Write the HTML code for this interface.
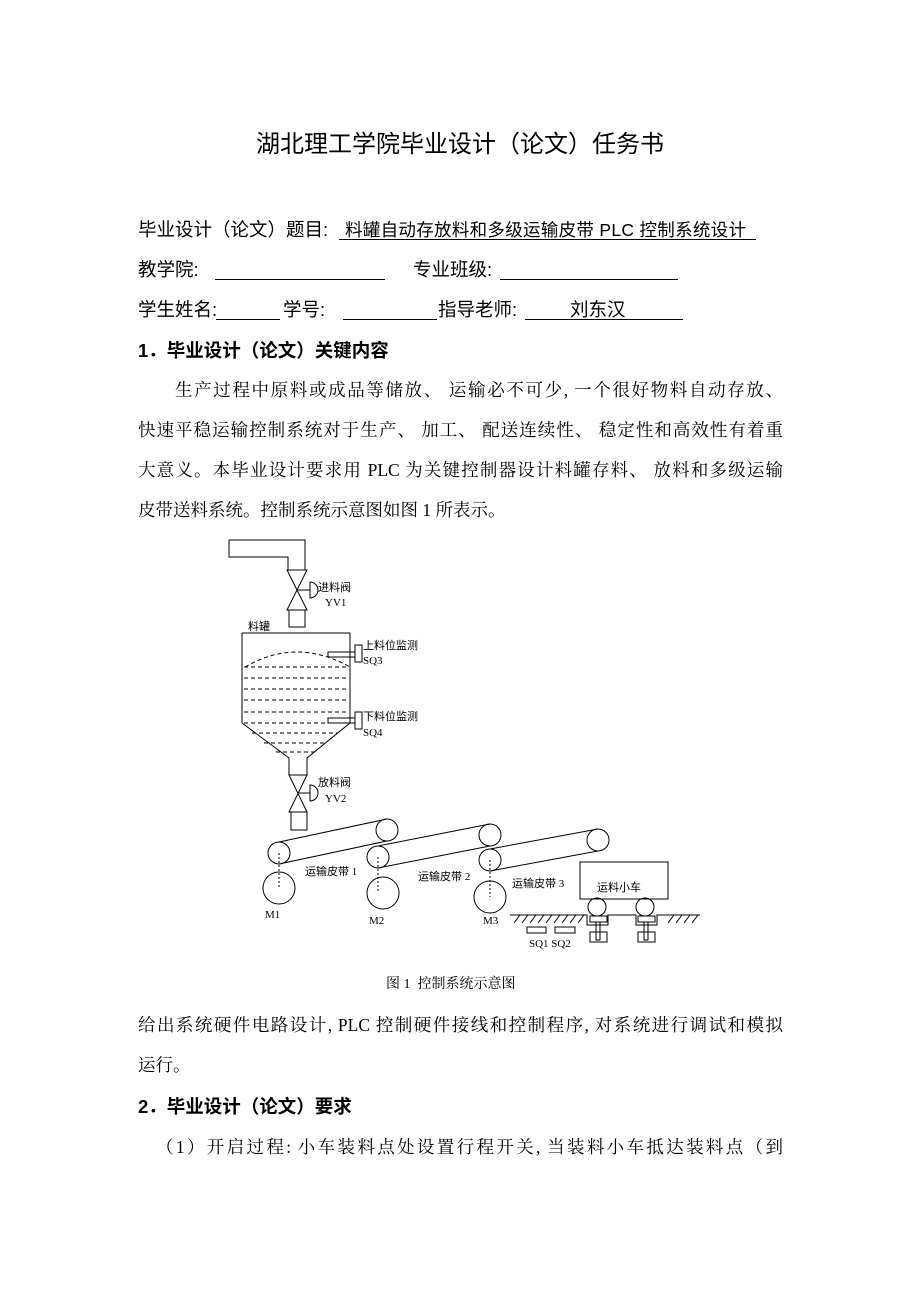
<!DOCTYPE html>
<html><head><meta charset="utf-8"><style>
body{margin:0;background:#fff}
#p{position:relative;width:920px;height:1302px;overflow:hidden;background:#fff;color:#000}
.t{position:absolute;white-space:nowrap;font-family:"Liberation Sans","Noto Sans CJK SC",sans-serif;font-size:18.5px;line-height:20px}
.s{position:absolute;white-space:nowrap;font-family:"Liberation Serif","Noto Serif CJK SC",serif;font-size:17.5px;line-height:20px}
.j{position:absolute;left:138px;width:645px;font-family:"Liberation Serif","Noto Serif CJK SC",serif;font-size:17.5px;line-height:20px;text-align:justify;text-align-last:justify;white-space:nowrap}
.u{position:absolute;height:1px;background:#000}
svg text{font-family:"Liberation Serif","Noto Sans CJK SC",sans-serif;font-size:11px}
</style></head><body><div id="p">
<div class="t" style="left:0;width:920px;text-align:center;top:131px;font-size:24px;line-height:28px">湖北理工学院毕业设计（论文）任务书</div>
<div class="t" style="left:138px;top:220px">毕业设计（论文）题目:</div>
<div class="t" style="left:345px;top:220px;font-size:17.5px;letter-spacing:0.3px">料罐自动存放料和多级运输皮带 PLC 控制系统设计</div>
<div class="u" style="left:339px;width:417px;top:239px"></div>
<div class="t" style="left:138px;top:260px">教学院:</div><div class="u" style="left:215px;width:170px;top:279px"></div>
<div class="t" style="left:413px;top:260px">专业班级:</div><div class="u" style="left:500px;width:178px;top:279px"></div>
<div class="t" style="left:138px;top:300px">学生姓名:</div><div class="u" style="left:216px;width:64px;top:319px"></div>
<div class="t" style="left:283px;top:300px">学号:</div><div class="u" style="left:343px;width:94px;top:319px"></div>
<div class="t" style="left:438px;top:300px">指导老师:</div><div class="u" style="left:525px;width:158px;top:319px"></div>
<div class="t" style="left:570px;top:300px">刘东汉</div>
<div class="t" style="left:138px;top:341px;font-weight:bold">1．毕业设计（论文）关键内容</div>
<div class="j" style="left:175px;width:608px;top:380px">生产过程中原料或成品等储放、 运输必不可少, 一个很好物料自动存放、</div>
<div class="j" style="top:420px">快速平稳运输控制系统对于生产、 加工、 配送连续性、 稳定性和高效性有着重</div>
<div class="j" style="top:460px">大意义。本毕业设计要求用 PLC 为关键控制器设计料罐存料、 放料和多级运输</div>
<div class="s" style="left:138px;top:500px">皮带送料系统。控制系统示意图如图 1 所表示。</div>
<svg style="position:absolute;left:0;top:0" width="920" height="1302" fill="none" stroke="#000" stroke-width="1">
<path d="M229 540H305V570M288 570V557H229V540"/>
<path d="M287 570H307L287 610H307Z"/><path d="M297 590H310M310 582A8 8 0 0 1 310 598Z"/>
<rect x="289" y="610" width="16" height="17"/>
<path d="M242 633H350V723L307 758V775M242 633V723L289 758V775"/>
<g stroke-dasharray="4 3"><path d="M245 667Q297 637 350 667"/>
<path d="M244 667H349M244 678H349M244 689H349M244 700H349M244 712H349M244 723H349M252 733H338M264 743H326M276 752H314"/></g>
<path d="M328 652H355V657H328Z"/><rect x="355" y="645" width="7" height="17"/>
<path d="M328 718H355V723H328Z"/><rect x="355" y="712" width="7" height="17"/>
<path d="M289 775H307L289 812H307Z"/><path d="M298 793H310M310 785A8 8 0 0 1 310 801Z"/>
<rect x="291" y="812" width="16" height="18"/>
<circle cx="279" cy="853" r="11"/><circle cx="387" cy="830" r="11"/>
<path d="M279 842L387 819M279 864L387 841"/>
<circle cx="378" cy="857" r="11"/><circle cx="490" cy="835" r="11"/>
<path d="M378 846L490 824M378 868L490 846"/>
<circle cx="490" cy="860" r="11"/><circle cx="598" cy="840" r="11"/>
<path d="M490 849L598 829M490 871L598 851"/>
<circle cx="279" cy="888" r="16"/><circle cx="383" cy="893" r="16"/><circle cx="490" cy="897" r="16"/>
<g stroke-dasharray="2 2"><path d="M279 853V888M378 857V893M490 860V897"/></g>
<rect x="580" y="862" width="88" height="37"/>
<circle cx="597" cy="907" r="9"/><circle cx="645" cy="907" r="9"/>
<path d="M510 915H587V925H608V915H636V925H657V915H700"/>
<g><path d="M514 923L520 915M522 923L528 915M530 923L536 915M538 923L544 915M546 923L552 915M554 923L560 915M562 923L568 915M570 923L576 915M578 923L584 915M668 923L674 915M676 923L682 915M684 923L690 915M692 923L698 915"/></g>
<rect x="590" y="916" width="17" height="6"/><path d="M596 922V940H600V922"/><rect x="590" y="932" width="17" height="10"/>
<rect x="638" y="916" width="17" height="6"/><path d="M644 922V940H648V922"/><rect x="638" y="932" width="17" height="10"/>
<rect x="527" y="927" width="19" height="6"/><rect x="555" y="927" width="20" height="6"/>
<g fill="#000" stroke="none">
<text x="318" y="591">进料阀</text><text x="325" y="606">YV1</text>
<text x="248" y="630">料罐</text>
<text x="363" y="649">上料位监测</text><text x="363" y="664">SQ3</text>
<text x="363" y="720">下料位监测</text><text x="363" y="736">SQ4</text>
<text x="318" y="786">放料阀</text><text x="325" y="802">YV2</text>
<text x="305" y="875">运输皮带 1</text><text x="418" y="880">运输皮带 2</text><text x="512" y="887">运输皮带 3</text>
<text x="597" y="891">运料小车</text>
<text x="265" y="918">M1</text><text x="369" y="924">M2</text><text x="483" y="924">M3</text>
<text x="529" y="947">SQ1 SQ2</text>
</g></svg>
<div class="s" style="left:386px;top:975px;font-size:14px">图 1 &nbsp;控制系统示意图</div>
<div class="j" style="top:1015px">给出系统硬件电路设计, PLC 控制硬件接线和控制程序, 对系统进行调试和模拟</div>
<div class="s" style="left:138px;top:1055px">运行。</div>
<div class="t" style="left:138px;top:1097px;font-weight:bold">2．毕业设计（论文）要求</div>
<div class="j" style="left:156px;width:627px;top:1137px">（1）开启过程: 小车装料点处设置行程开关, 当装料小车抵达装料点（到</div>
</div></body></html>
